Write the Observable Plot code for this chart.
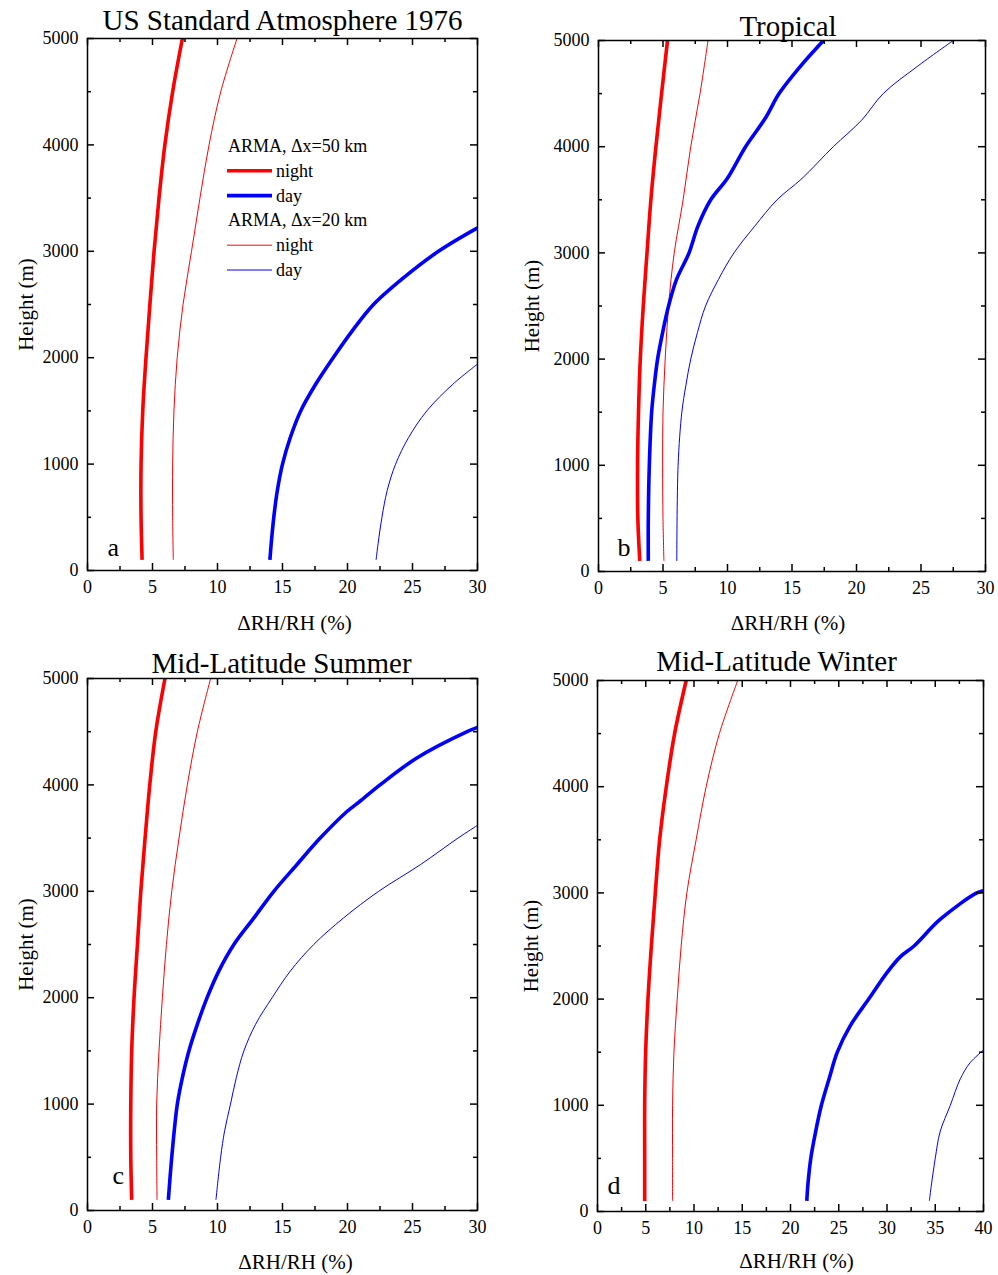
<!DOCTYPE html>
<html><head><meta charset="utf-8">
<script src="https://cdn.jsdelivr.net/npm/d3@7"></script>
<script src="https://cdn.jsdelivr.net/npm/@observablehq/plot@0.6"></script>
<style>
body{margin:0;background:#fff;}
#root{position:relative;width:998px;height:1275px;overflow:hidden;background:#fff;font-family:'Liberation Serif','Times New Roman',serif;}
.panel{position:absolute;}
.panel svg{overflow:visible;}
.panel svg text{font-family:'Liberation Serif','Times New Roman',serif;}
</style></head><body><div id="root"></div>
<script>
// ---------- data ----------
const H = [100, 500, 1000, 1500, 2000, 2500, 3000, 3500, 4000, 4500, 5000];

// (a) US Standard Atmosphere 1976
const usNight50 = [4.2, 4.12, 4.12, 4.25, 4.5, 4.8, 5.12, 5.5, 5.95, 6.55, 7.3];
const usNight20 = [6.6, 6.55, 6.55, 6.65, 6.9, 7.35, 8.0, 8.65, 9.35, 10.25, 11.5];
const usDay50H = [100, 250, 500, 750, 1000, 1250, 1500, 1750, 2000, 2250, 2500, 2750, 3000, 3220];
const usDay50 = [14.03, 14.13, 14.33, 14.6, 15.0, 15.6, 16.4, 17.55, 18.9, 20.35, 22.0, 24.3, 27.0, 30];
const usDay20H = [100, 250, 500, 750, 1000, 1250, 1500, 1750, 1940];
const usDay20 = [22.2, 22.35, 22.65, 23.05, 23.7, 24.7, 26.1, 28.1, 30];

// (b) Tropical
const trNight50 = [3.2, 3.05, 3.03, 3.1, 3.24, 3.47, 3.76, 4.06, 4.45, 4.89, 5.35];
const trNight20 = [5.07, 5.0, 4.97, 5.0, 5.17, 5.43, 5.87, 6.56, 7.15, 7.87, 8.49];
const trDay50H = [100, 500, 1000, 1500, 1750, 2000, 2250, 2500, 2750, 3000, 3250, 3500, 3700, 4000, 4270, 4500, 4750, 5000];
const trDay50 = [3.86, 3.86, 3.94, 4.12, 4.32, 4.58, 4.97, 5.43, 6.05, 7.02, 7.7, 8.7, 9.98, 11.4, 12.94, 14.0, 15.6, 17.44];
const trDay20H = [100, 1000, 1500, 1750, 2000, 2250, 2500, 2750, 3000, 3250, 3500, 3700, 4000, 4250, 4500, 4750, 5000];
const trDay20 = [6.07, 6.17, 6.46, 6.77, 7.15, 7.67, 8.3, 9.3, 10.5, 12.1, 13.84, 15.77, 18.2, 20.4, 22.07, 24.65, 27.5];

// (c) Mid-Latitude Summer
const mlsNight50 = [3.4, 3.33, 3.33, 3.4, 3.58, 3.84, 4.1, 4.43, 4.79, 5.25, 5.96];
const mlsNight20 = [5.35, 5.32, 5.32, 5.5, 5.76, 6.07, 6.48, 7.04, 7.68, 8.45, 9.47];
const mlsDay50H = [100, 500, 1000, 1250, 1500, 1750, 2000, 2250, 2500, 2750, 3000, 3250, 3500, 3750, 3840, 4000, 4250, 4500, 4540];
const mlsDay50 = [6.22, 6.48, 6.91, 7.3, 7.8, 8.45, 9.2, 10.1, 11.26, 12.8, 14.33, 16.1, 17.9, 19.96, 20.9, 22.5, 25.3, 29.2, 30];
const mlsDay20H = [100, 500, 750, 1000, 1250, 1500, 1750, 2000, 2250, 2500, 2750, 3000, 3250, 3500, 3620];
const mlsDay20 = [9.88, 10.24, 10.55, 11.0, 11.45, 12.03, 12.93, 14.2, 15.6, 17.4, 19.7, 22.4, 25.6, 28.5, 30];

// (d) Mid-Latitude Winter
const mlwNight50 = [4.89, 4.89, 4.89, 4.99, 5.23, 5.58, 5.99, 6.44, 7.13, 7.99, 9.19];
const mlwNight20 = [7.78, 7.78, 7.78, 7.92, 8.26, 8.67, 9.26, 10.22, 11.26, 12.63, 14.53];
const mlwDay50H = [100, 250, 500, 750, 1000, 1250, 1500, 1750, 2000, 2250, 2400, 2500, 2750, 3000, 3020];
const mlwDay50 = [21.69, 21.8, 22.1, 22.6, 23.2, 24.0, 24.85, 26.2, 28.1, 30.0, 31.4, 32.8, 35.5, 39.3, 40];
const mlwDay20H = [100, 250, 500, 750, 1000, 1250, 1400, 1520];
const mlwDay20 = [34.39, 34.6, 35.0, 35.5, 36.56, 37.6, 38.6, 40];

const titles = ["US Standard Atmosphere 1976", "Tropical", "Mid-Latitude Summer", "Mid-Latitude Winter"];
const letters = ["a", "b", "c", "d"];
const xLabel = "ΔRH/RH (%)";
const yLabel = "Height (m)";
const yMajor = [0, 1000, 2000, 3000, 4000, 5000];
const yMinor = [500, 1500, 2500, 3500, 4500];
const xMax = [30, 30, 30, 40];
const legendLabels = ["ARMA, Δx=50 km", "night", "day", "ARMA, Δx=20 km", "night", "day"];

// ---------- styles ----------
const RED = "#ff0000", BLUE = "#0000ff";
const THICK = 3.6, THIN = 1.0;
const FONT = "'Liberation Serif','Times New Roman',serif";

const seriesByPanel = [
  [[H, usNight50, RED, THICK], [H, usNight20, RED, THIN], [usDay50H, usDay50, BLUE, THICK], [usDay20H, usDay20, BLUE, THIN]],
  [[H, trNight50, RED, THICK], [H, trNight20, RED, THIN], [trDay50H, trDay50, BLUE, THICK], [trDay20H, trDay20, BLUE, THIN]],
  [[H, mlsNight50, RED, THICK], [H, mlsNight20, RED, THIN], [mlsDay50H, mlsDay50, BLUE, THICK], [mlsDay20H, mlsDay20, BLUE, THIN]],
  [[H, mlwNight50, RED, THICK], [H, mlwNight20, RED, THIN], [mlwDay50H, mlwDay50, BLUE, THICK], [mlwDay20H, mlwDay20, BLUE, THIN]]
];

const layout = [
  {left: 0,   top: 0,   width: 500, height: 640, mL: 87, mR: 23, mT: 38, mB: 70, titleDx: 0,   titleGap: 9,  letterDx: 20, letterGap: 15, yLabDx: -55, xLabDy: 59, xLabDx: 12},
  {left: 500, top: 0,   width: 498, height: 640, mL: 98, mR: 13, mT: 40, mB: 69, titleDx: -4,  titleGap: 5,  letterDx: 19, letterGap: 16, yLabDx: -60, xLabDy: 58, xLabDx: -4},
  {left: 0,   top: 640, width: 500, height: 635, mL: 87, mR: 23, mT: 38, mB: 65, titleDx: -1,  titleGap: 6,  letterDx: 25, letterGap: 27, yLabDx: -55, xLabDy: 58, xLabDx: 13},
  {left: 500, top: 640, width: 498, height: 635, mL: 97, mR: 15, mT: 40, mB: 64, titleDx: -14, titleGap: 10, letterDx: 10, letterGap: 18, yLabDx: -60, xLabDy: 56, xLabDx: 6}
];

const root = document.getElementById("root");

layout.forEach((L, i) => {
  const fw = L.width - L.mL - L.mR;
  const fh = L.height - L.mT - L.mB;
  const xm = xMax[i];
  const xMajor = d3.range(0, xm + 0.001, 5);
  const xMinor = d3.range(2.5, xm, 5);
  const MAJ = 7, MIN = 4, TW = 1.5;

  const lineMarks = seriesByPanel[i].map(([hs, vs, color, w]) =>
    Plot.line(hs.map((h, k) => ({h, v: vs[k]})), {x: "v", y: "h", stroke: color, strokeWidth: w, clip: true, strokeLinecap: "butt", curve: "catmull-rom"})
  );

  const chart = Plot.plot({
    width: L.width, height: L.height,
    marginLeft: L.mL, marginRight: L.mR, marginTop: L.mT, marginBottom: L.mB,
    style: {fontFamily: FONT, fontSize: "18px", color: "black", background: "white"},
    x: {domain: [0, xm]},
    y: {domain: [0, 5000]},
    marks: [
      ...lineMarks,
      Plot.frame({stroke: "black", strokeWidth: 1.5}),
      Plot.tickX(xMajor, {x: d => d, insetTop: fh - MAJ, strokeWidth: TW}),
      Plot.tickX(xMajor, {x: d => d, insetBottom: fh - MAJ, strokeWidth: TW}),
      Plot.tickX(xMinor, {x: d => d, insetTop: fh - MIN, strokeWidth: TW}),
      Plot.tickX(xMinor, {x: d => d, insetBottom: fh - MIN, strokeWidth: TW}),
      Plot.tickY(yMajor, {y: d => d, insetRight: fw - MAJ, strokeWidth: TW}),
      Plot.tickY(yMajor, {y: d => d, insetLeft: fw - MAJ, strokeWidth: TW}),
      Plot.tickY(yMinor, {y: d => d, insetRight: fw - MIN, strokeWidth: TW}),
      Plot.tickY(yMinor, {y: d => d, insetLeft: fw - MIN, strokeWidth: TW}),
      Plot.axisX({ticks: xMajor, tickSize: 0, tickPadding: 10, fontSize: 18, label: null, tickFormat: d => String(d)}),
      Plot.axisY({ticks: yMajor, tickSize: 0, tickPadding: 9, fontSize: 18, label: null, tickFormat: d => String(d)}),
      Plot.text([titles[i]], {text: d => d, frameAnchor: "top", textAnchor: "middle", lineAnchor: "bottom", dy: -L.titleGap, dx: L.titleDx, fontSize: 29}),
      Plot.text([xLabel], {text: d => d, frameAnchor: "bottom", textAnchor: "middle", lineAnchor: "bottom", dy: L.xLabDy, dx: L.xLabDx, fontSize: 21}),
      Plot.text([yLabel], {text: d => d, frameAnchor: "left", textAnchor: "middle", lineAnchor: "bottom", rotate: -90, dx: L.yLabDx, fontSize: 21}),
      Plot.text([letters[i]], {text: d => d, frameAnchor: "bottom-left", textAnchor: "start", lineAnchor: "bottom", dx: L.letterDx, dy: -L.letterGap, fontSize: 26})
    ]
  });
  const div = document.createElement("div");
  div.className = "panel";
  div.style.left = L.left + "px";
  div.style.top = L.top + "px";
  div.appendChild(chart);
  root.appendChild(div);
});

// ---------- legend (panel a) ----------
const legendStyles = [null, [RED, THICK], [BLUE, THICK], null, [RED, THIN], [BLUE, THIN]];
const lg = d3.select(root).append("svg")
  .attr("width", 200).attr("height", 170)
  .style("position", "absolute").style("left", "220px").style("top", "128px")
  .style("font-family", FONT).style("font-size", "18px");
legendLabels.forEach((t, k) => {
  const base = 24 + k * 24.8;
  const st = legendStyles[k];
  if (st) {
    lg.append("line").attr("x1", 7).attr("x2", 52).attr("y1", base - 6).attr("y2", base - 6)
      .attr("stroke", st[0]).attr("stroke-width", st[1]);
    lg.append("text").attr("x", 56).attr("y", base).text(t);
  } else {
    lg.append("text").attr("x", 8).attr("y", base).text(t);
  }
});
</script></body></html>
